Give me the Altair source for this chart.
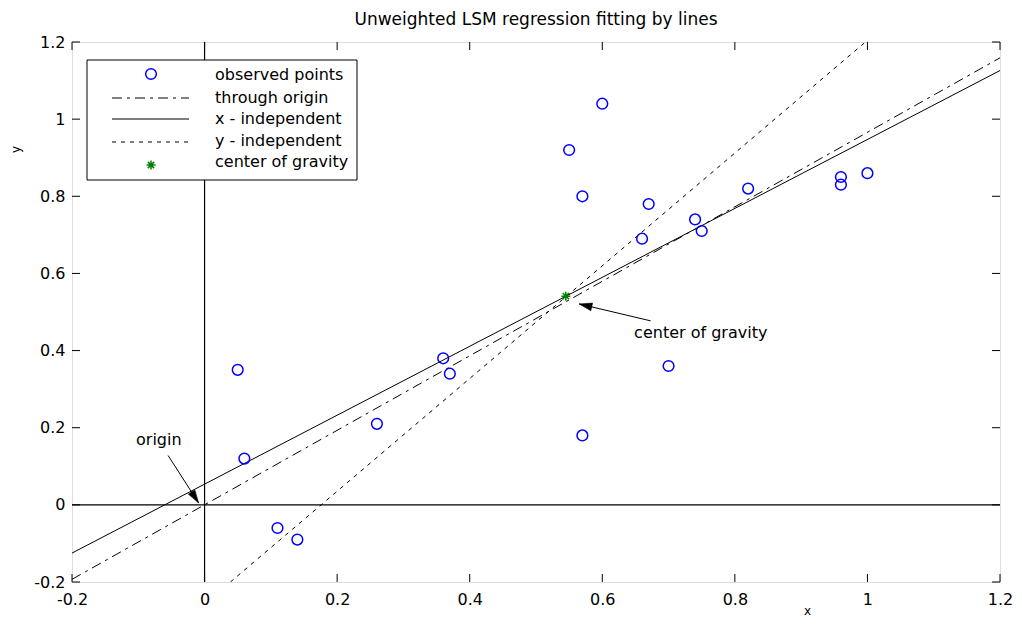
import math
import altair as alt
import pandas as pd

# ---------------- data ----------------
obs_x = [0.05, 0.06, 0.11, 0.14, 0.26, 0.36, 0.37, 0.55, 0.57, 0.57,
         0.60, 0.66, 0.67, 0.70, 0.74, 0.75, 0.82, 0.96, 0.96, 1.00]
obs_y = [0.35, 0.12, -0.06, -0.09, 0.21, 0.38, 0.34, 0.92, 0.80, 0.18,
         1.04, 0.69, 0.78, 0.36, 0.74, 0.71, 0.82, 0.85, 0.83, 0.86]

cog_x = [0.545]
cog_y = [0.541]

origin_line_x = [-0.2, 1.2]
origin_line_y = [-0.193, 1.159]
xind_line_x = [-0.2, 1.2]
xind_line_y = [-0.125, 1.126]
yind_line_x = [0.039, 0.997]
yind_line_y = [-0.2, 1.2]

x_ticks = [-0.2, 0, 0.2, 0.4, 0.6, 0.8, 1.0, 1.2]
y_ticks = [-0.2, 0, 0.2, 0.4, 0.6, 0.8, 1.0, 1.2]

legend_labels = ["observed points", "through origin", "x - independent",
                 "y - independent", "center of gravity"]

title_text = "Unweighted LSM regression fitting by lines"

origin_label = ["origin"]
origin_label_x = [-0.069]
origin_label_y = [0.169]
origin_arrow_x = [-0.055, -0.009]
origin_arrow_y = [0.128, 0.005]

cog_label = ["center of gravity"]
cog_label_x = [0.648]
cog_label_y = [0.446]
cog_arrow_x = [0.673, 0.565]
cog_arrow_y = [0.477, 0.521]

# ---------------- layout ----------------
W, H = 928, 540
FONT = "DejaVu Sans"
BLUE = "#0000ff"
GREEN = "#008000"

xs = alt.Scale(domain=[-0.2, 1.2], nice=False, zero=False)
ys = alt.Scale(domain=[-0.2, 1.2], nice=False, zero=False)

lbl = "datum.value == 0 ? '0' : toString(round(datum.value * 10) / 10)"
x_axis = alt.Axis(values=x_ticks, labelExpr=lbl, title="x", titleX=735, titleY=28,
                  titleFontSize=12, titleFontWeight="normal", titleFont=FONT,
                  titleBaseline="middle", titleColor="black",
                  labelFont=FONT, labelFontSize=16, labelColor="black",
                  labelPadding=9, labelFlush=False, labelOverlap=False,
                  domain=False, ticks=False, tickSize=0, grid=False)
y_axis = alt.Axis(values=y_ticks, labelExpr=lbl, title="y", titleX=-57, titleY=107,
                  titleAngle=270, titleFontSize=12, titleFontWeight="normal",
                  titleFont=FONT, titleBaseline="middle", titleColor="black",
                  labelFont=FONT, labelFontSize=16, labelColor="black",
                  labelPadding=7, labelFlush=False, labelOverlap=False,
                  domain=False, ticks=False, tickSize=0, grid=False)


def X(f="x"):
    return alt.X(f"{f}:Q", scale=xs, axis=x_axis)


def Y(f="y"):
    return alt.Y(f"{f}:Q", scale=ys, axis=y_axis)


one = pd.DataFrame({"a": [0]})

# zero lines
zero_v = alt.Chart(one).mark_rule(color="black", strokeWidth=1.2).encode(
    x=X("z")).transform_calculate(z="0")
zero_h = alt.Chart(one).mark_rule(color="black", strokeWidth=1.2).encode(
    y=Y("z")).transform_calculate(z="0")


def line_layer(lx, ly, dash):
    df = pd.DataFrame({"x": lx, "y": ly})
    kw = dict(color="black", strokeWidth=1, clip=True)
    if dash:
        kw["strokeDash"] = dash
    return alt.Chart(df).mark_line(**kw).encode(x=X(), y=Y())


l_origin = line_layer(origin_line_x, origin_line_y, [10, 5, 3, 5])
l_xind = line_layer(xind_line_x, xind_line_y, None)
l_yind = line_layer(yind_line_x, yind_line_y, [4, 5])

pts = alt.Chart(pd.DataFrame({"x": obs_x, "y": obs_y})).mark_point(
    shape="circle", filled=False, stroke=BLUE, strokeWidth=1.5, size=115, opacity=1
).encode(x=X(), y=Y())

ASTER = "M-1,0L1,0M0,-1L0,1M-0.7,-0.7L0.7,0.7M-0.7,0.7L0.7,-0.7"
cog = alt.Chart(pd.DataFrame({"x": cog_x, "y": cog_y})).mark_point(
    shape=ASTER, filled=False, stroke=GREEN, strokeWidth=1.5, size=81, opacity=1
).encode(x=X(), y=Y())

# arrows
ARROW = "M0,0L-0.3,1L0.3,1Z"
pxx, pxy = W / 1.4, H / 1.4


def arrow(ax, ay):
    shaft = alt.Chart(pd.DataFrame({"x": ax, "y": ay, "o": [0, 1]})).mark_line(
        color="black", strokeWidth=1).encode(x=X(), y=Y(), order="o:Q")
    dx = (ax[1] - ax[0]) * pxx
    dy = -(ay[1] - ay[0]) * pxy
    ang = math.degrees(math.atan2(dx, -dy)) % 360
    head = alt.Chart(pd.DataFrame({"x": [ax[1]], "y": [ay[1]]})).mark_point(
        shape=ARROW, filled=True, fill="black", stroke="black", strokeWidth=0.5,
        size=676, angle=ang, opacity=1).encode(x=X(), y=Y())
    return shaft + head


arr1 = arrow(origin_arrow_x, origin_arrow_y)
arr2 = arrow(cog_arrow_x, cog_arrow_y)

t_origin = alt.Chart(pd.DataFrame({"x": origin_label_x, "y": origin_label_y, "t": origin_label})).mark_text(
    font=FONT, fontSize=16, align="center", baseline="middle", color="black"
).encode(x=X(), y=Y(), text="t:N")
t_cog = alt.Chart(pd.DataFrame({"x": cog_label_x, "y": cog_label_y, "t": cog_label})).mark_text(
    font=FONT, fontSize=16, align="left", baseline="middle", color="black"
).encode(x=X(), y=Y(), text="t:N")

# legend (drawn by hand)
leg_box = alt.Chart(one).mark_rect(fill="white", stroke="black", strokeWidth=1).encode(
    x=alt.value(15), x2=alt.value(285), y=alt.value(18), y2=alt.value(138))
leg_sym_y = [32, 56, 77, 100, 123]
leg_txt_y = [33, 56, 77, 99, 120]
leg_layers = [leg_box]
leg_layers.append(alt.Chart(one).mark_point(shape="circle", filled=False, stroke=BLUE,
                                            strokeWidth=1.5, size=115, opacity=1).encode(
    x=alt.value(79), y=alt.value(leg_sym_y[0])))
for yy, dash in [(leg_sym_y[1], [10, 5, 3, 5]), (leg_sym_y[2], None), (leg_sym_y[3], [4, 5])]:
    kw = dict(color="black", strokeWidth=1)
    if dash:
        kw["strokeDash"] = dash
    leg_layers.append(alt.Chart(one).mark_rule(**kw).encode(
        x=alt.value(40), x2=alt.value(117), y=alt.value(yy)))
leg_layers.append(alt.Chart(one).mark_point(shape=ASTER, filled=False, stroke=GREEN,
                                            strokeWidth=1.5, size=81, opacity=1).encode(
    x=alt.value(79), y=alt.value(leg_sym_y[4])))
for lab, yy in zip(legend_labels, leg_txt_y):
    leg_layers.append(alt.Chart(one).mark_text(font=FONT, fontSize=16, align="left",
                                               baseline="middle", color="black").encode(
        x=alt.value(143), y=alt.value(yy), text=alt.value(lab)))

# inward ticks on all four sides
TL = 8
xt = pd.DataFrame({"t": x_ticks})
yt = pd.DataFrame({"t": y_ticks})
tick_layers = [
    alt.Chart(xt).mark_rule(color="black", strokeWidth=1).encode(x=X("t"), y=alt.value(H), y2=alt.value(H - TL)),
    alt.Chart(xt).mark_rule(color="black", strokeWidth=1).encode(x=X("t"), y=alt.value(0), y2=alt.value(TL)),
    alt.Chart(yt).mark_rule(color="black", strokeWidth=1).encode(y=Y("t"), x=alt.value(0), x2=alt.value(TL)),
    alt.Chart(yt).mark_rule(color="black", strokeWidth=1).encode(y=Y("t"), x=alt.value(W), x2=alt.value(W - TL)),
]

chart = alt.layer(
    zero_v, zero_h, l_origin, l_xind, l_yind, pts, cog, arr1, arr2, t_origin, t_cog,
    *leg_layers, *tick_layers
).properties(
    width=W, height=H,
    title=alt.TitleParams(title_text, font=FONT, fontSize=17, fontWeight="normal",
                          anchor="middle", frame="group", offset=5, color="black"),
    autosize=alt.AutoSizeParams(type="none"),
    padding={"left": 64, "top": 34, "right": 14, "bottom": 36},
).configure_view(stroke="black", strokeWidth=1).configure(background="white")

chart.save("out.html", embed_options={"renderer": "svg", "actions": False})
